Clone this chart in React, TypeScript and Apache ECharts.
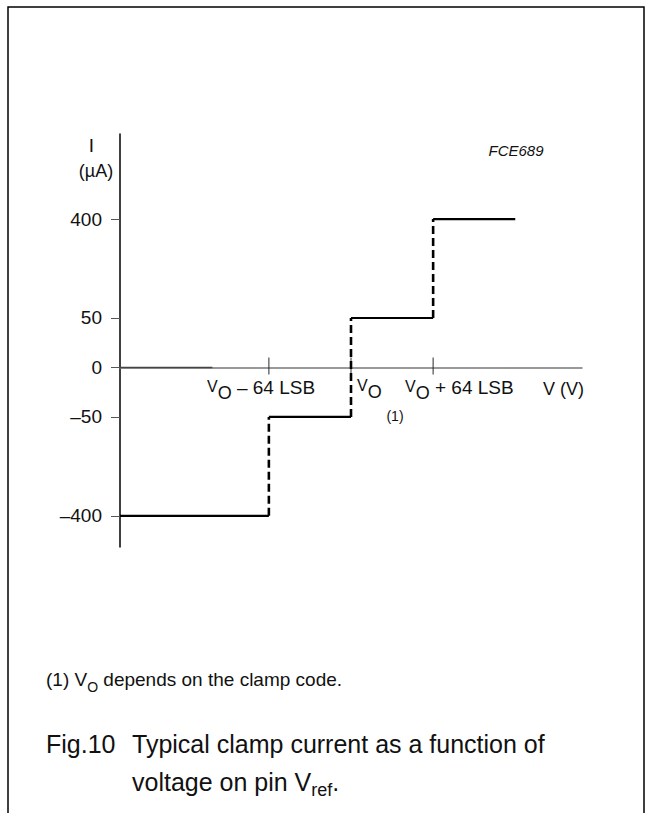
import React, { useEffect, useRef } from 'react';
import * as echarts from 'echarts';

// ---- data ----
const stepEdges = [-180, -64, 0, 64, 128]; // V, in LSB relative to VO
const stepLevels = [-400, -50, 50, 400]; // I (µA)
const yTickValues = [400, 50, 0, -50, -400];
const yTickLabels = ['400', '50', '0', '\u201350', '\u2013400'];
const xTickValues = [-64, 0, 64];
const xRange = [-180, 180];
const yRangeUnits = [-3.63, 4.72]; // broken-scale axis units
const axisDarkStretch = [-180, -108];

// broken (piecewise linear) current scale: ±50 µA -> ±1 unit, then 175 µA per unit
const toAxis = (v: number) =>
  Math.abs(v) <= 50 ? v / 50 : Math.sign(v) * (1 + (Math.abs(v) - 50) / 175);

const FONT = '"Liberation Sans", Arial, Helvetica, sans-serif';

export default function App() {
  const ref = useRef<HTMLDivElement>(null);
  useEffect(() => {
    if (!ref.current) return;
    const chart = echarts.init(ref.current, undefined, { renderer: 'svg' });

    const hSeries = stepLevels.map((lv, i) => ({
      type: 'line',
      data: [
        [stepEdges[i], toAxis(lv)],
        [stepEdges[i + 1], toAxis(lv)],
      ],
      symbol: 'none',
      silent: true,
      lineStyle: { color: '#000', width: 2.2 },
      z: 3,
    }));
    const vSeries = stepLevels.slice(0, -1).map((lv, i) => ({
      type: 'line',
      data: [
        [stepEdges[i + 1], toAxis(lv)],
        [stepEdges[i + 1], toAxis(stepLevels[i + 1])],
      ],
      symbol: 'none',
      silent: true,
      lineStyle: { color: '#000', width: 2.6, type: [8, 4] },
      z: 4,
    }));

    const yTickAxisVals = yTickValues.map(toAxis);

    const voRich = {
      v: { fontSize: 16, lineHeight: 24, verticalAlign: 'top', fontFamily: FONT, fill: '#111' },
      o: { fontSize: 18, lineHeight: 24, verticalAlign: 'bottom', fontFamily: FONT, fill: '#111' },
      t: { fontSize: 19, lineHeight: 24, verticalAlign: 'top', fontFamily: FONT, fill: '#111' },
    };

    const txt = (x: number, y: number, text: string, extra: any = {}) => ({
      type: 'text',
      x,
      y,
      silent: true,
      style: {
        text,
        fontFamily: FONT,
        fill: '#111',
        ...extra,
      },
    });

    chart.setOption({
      animation: false,
      backgroundColor: '#fff',
      grid: { left: 120, top: 134, width: 462, height: 413, containLabel: false },
      xAxis: {
        type: 'value',
        min: xRange[0],
        max: xRange[1],
        axisLine: { show: true, onZero: true, lineStyle: { color: '#777', width: 1.5 } },
        axisTick: { show: false },
        axisLabel: { show: false },
        splitLine: { show: false },
      },
      yAxis: {
        type: 'value',
        min: yRangeUnits[0],
        max: yRangeUnits[1],
        axisLine: { show: true, onZero: false, lineStyle: { color: '#000', width: 1.5 } },
        axisTick: {
          show: true,
          customValues: yTickAxisVals,
          length: 9,
          lineStyle: { color: '#555', width: 1 },
        },
        axisLabel: {
          show: true,
          customValues: yTickAxisVals,
          margin: 18,
          fontSize: 19,
          fontFamily: FONT,
          color: '#111',
          formatter: (v: number) => {
            const i = yTickAxisVals.findIndex((t) => Math.abs(t - v) < 1e-6);
            return i >= 0 ? yTickLabels[i] : '';
          },
        },
        splitLine: { show: false },
      },
      series: [
        {
          type: 'line',
          data: axisDarkStretch.map((x) => [x, 0]),
          symbol: 'none',
          silent: true,
          lineStyle: { color: '#444', width: 1.5 },
          z: 2,
        },
        {
          type: 'scatter',
          data: xTickValues.map((x) => [x, 0]),
          symbol: 'rect',
          symbolSize: [1.2, 17],
          symbolOffset: [0, -1.5],
          silent: true,
          itemStyle: { color: '#222' },
          z: 2,
        },
        ...hSeries,
        ...vSeries,
      ],
      graphic: [
        {
          type: 'rect',
          silent: true,
          shape: { x: 8, y: 7, width: 636, height: 840 },
          style: { fill: 'none', stroke: '#000', lineWidth: 1.5 },
        },
        txt(91.5, 145, 'I', { fontSize: 19, align: 'center', verticalAlign: 'middle' }),
        txt(96, 171, '(\u00b5A)', { fontSize: 18, align: 'center', verticalAlign: 'middle' }),
        txt(516, 150, 'FCE689', { fontSize: 15, fontStyle: 'italic', align: 'center', verticalAlign: 'middle' }),
        txt(207, 378, '{v|V}{o|O}{t| \u2013 64 LSB}', { verticalAlign: 'top', rich: voRich }),
        txt(357, 377, '{v|V}{o|O}', { verticalAlign: 'top', rich: voRich }),
        txt(395, 416, '(1)', { fontSize: 14, align: 'center', verticalAlign: 'middle' }),
        txt(405, 378, '{v|V}{o|O}{t| + 64 LSB}', { verticalAlign: 'top', rich: voRich }),
        txt(543, 389, 'V (V)', { fontSize: 18, verticalAlign: 'middle' }),
        txt(46, 670, '{t|(1) V}{s|O}{t| depends on the clamp code.}', {
          verticalAlign: 'top',
          rich: {
            t: { fontSize: 19, lineHeight: 24, verticalAlign: 'top', fontFamily: FONT, fill: '#111' },
            s: { fontSize: 14, lineHeight: 24, verticalAlign: 'bottom', fontFamily: FONT, fill: '#111' },
          },
        }),
        txt(46, 744, 'Fig.10', { fontSize: 25, verticalAlign: 'middle' }),
        txt(132, 744, 'Typical clamp current as a function of', { fontSize: 25, verticalAlign: 'middle' }),
        txt(132, 769, '{t|voltage on pin V}{s|ref}{t|.}', {
          verticalAlign: 'top',
          rich: {
            t: { fontSize: 25, lineHeight: 30, verticalAlign: 'top', fontFamily: FONT, fill: '#111' },
            s: { fontSize: 18, lineHeight: 30, verticalAlign: 'bottom', fontFamily: FONT, fill: '#111' },
          },
        }),
      ],
    });
    return () => chart.dispose();
  }, []);
  return (
    <div
      ref={ref}
      style={{ position: 'fixed', left: 0, top: 0, width: 651, height: 813, background: '#fff' }}
    />
  );
}
